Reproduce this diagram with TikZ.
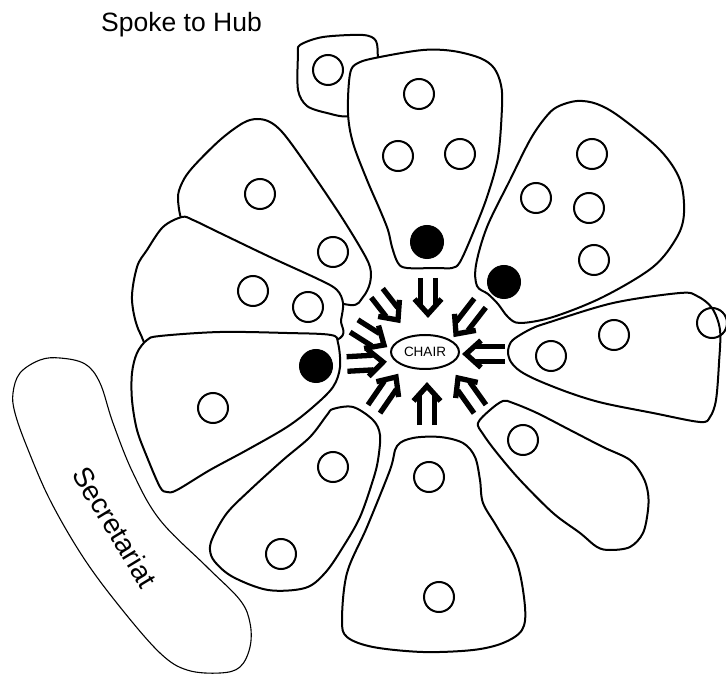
\documentclass[tikz,border=0pt]{standalone}
\usepackage{fontspec}
\setmainfont{Liberation Sans}
\usetikzlibrary{calc,shapes.geometric}
\tikzset{
  petal/.style={draw=black, line width=2pt, fill=white, line join=round},
  secbox/.style={draw=black, line width=1.1pt, fill=white},
  hole/.style={circle, draw=black, line width=2pt, minimum size=30pt, inner sep=0pt},
  member/.style={circle, draw=black, fill=black, line width=1pt, minimum size=33pt, inner sep=0pt},
  hubline/.style={line width=5.3pt, draw=black},
}
\newcommand\hubarrow[2]{%
  \draw[hubline] ($(#1)!7.3pt!90:(#2)$) -- ($($(#2)!10pt!(#1)$)!7.3pt!-90:(#1)$);
  \draw[hubline] ($(#1)!7.3pt!-90:(#2)$) -- ($($(#2)!10pt!(#1)$)!7.3pt!90:(#1)$);
  \draw[hubline, line join=miter] ($($(#2)!15pt!(#1)$)!13.5pt!90:(#2)$) -- (#2) -- ($($(#2)!15pt!(#1)$)!13.5pt!-90:(#2)$);
}
\begin{document}
\begin{tikzpicture}[x=1pt,y=-1pt]
\useasboundingbox (0,0) rectangle (726,676);
\fill[white] (0,0) rectangle (726,676);

% title
\node[anchor=base west, inner sep=0pt, font=\fontsize{26.5}{30}\selectfont] (title) at (101,32) {Spoke to Hub};

% secretariat
\draw[secbox] plot[smooth cycle, tension=0.6] coordinates {(60,358) (40,360) (20,373) (13,393) (15,413) (27,447) (50,500) (83,557) (120,607) (160,653) (187,670) (220,673) (240,667) (250,647) (250,623) (240,600) (207,567) (160,520) (133,473) (113,423) (100,383) (85,364)};
\node[rotate=-58.7, font=\fontsize{28}{30}\selectfont, inner sep=0pt] (secr) at (115,527) {Secretariat};

% small box behind top petal
\draw[petal] plot[smooth cycle, tension=0.5] coordinates {(300,45) (323,37) (363,35) (376,41) (378,60) (380,100) (350,116) (327,113) (307,106) (298,90) (298,55)};
\node[hole] (b1) at (328,70) {};

% petal 1 (top)
\draw[petal] plot[smooth cycle, tension=0.55] coordinates {(358,63) (380,57) (423,50) (453,51) (480,58) (494,68) (501,85) (502,107) (498,157) (487,197) (473,233) (460,262) (452,268) (437,268) (407,268) (398,263) (392,247) (388,230) (380,210) (367,180) (353,143) (348,113) (350,74)};
\node[hole] (p1a) at (419,94) {};
\node[hole] (p1b) at (398,156) {};
\node[hole] (p1c) at (460,154) {};
\node[member] (p1d) at (427,242) {};

% petal 2 (upper right)
\draw[petal] plot[smooth cycle, tension=0.55] coordinates {(577,101) (557,107) (545,118) (530,140) (510,180) (487,227) (476,265) (477,286) (488,294) (498,304) (508,317) (520,323) (553,317) (603,297) (653,267) (677,237) (684,213) (680,180) (660,150) (620,117) (597,104)};
\node[hole] (p2a) at (592,154) {};
\node[hole] (p2b) at (536,198) {};
\node[hole] (p2c) at (589,208) {};
\node[hole] (p2d) at (594,260) {};
\node[member] (p2e) at (504,282) {};

% petal 3 (right)
\draw[petal] plot[smooth cycle, tension=0.55] coordinates {(508,352) (511,342) (520,335) (533,328) (547,323) (613,303) (680,293) (697,296) (712,308) (720,330) (719,363) (716,400) (710,417) (700,422) (653,413) (603,403) (570,393) (537,380) (520,371) (511,362)};
\node[hole] (p3a) at (551,356) {};
\node[hole] (p3b) at (614,335) {};
\node[hole] (p3c) at (712,323) {};

% petal 4 (lower right)
\draw[petal] plot[smooth cycle, tension=0.55] coordinates {(478,423) (490,410) (503,401) (513,403) (537,413) (570,430) (603,447) (630,460) (643,477) (648,493) (648,510) (643,533) (630,547) (610,550) (597,547) (580,533) (553,513) (520,480) (497,453) (483,434)};
\node[hole] (p4a) at (523,440) {};

% petal 5 (bottom)
\draw[petal] plot[smooth cycle, tension=0.55] coordinates {(397,446) (413,438) (440,437) (463,443) (475,457) (480,480) (483,503) (497,527) (517,563) (525,607) (522,630) (503,643) (473,650) (423,652) (373,647) (347,637) (342,620) (347,573) (367,527) (390,470)};
\node[hole] (p5a) at (429,477) {};
\node[hole] (p5b) at (439,597) {};

% petal 6 (lower left)
\draw[petal] plot[smooth cycle, tension=0.55] coordinates {(333,409) (353,407) (373,420) (380,435) (378,460) (373,480) (360,517) (343,547) (325,573) (305,588) (268,590) (233,577) (215,562) (210,550) (213,537) (227,513) (250,490) (283,460) (310,437) (327,415)};
\node[hole] (p6a) at (333,467) {};
\node[hole] (p6b) at (281,554) {};

% petal 9 (upper left)
\draw[petal] plot[smooth cycle, tension=0.55] coordinates {(243,123) (257,119) (270,122) (283,133) (303,160) (337,210) (360,247) (370,267) (370,283) (363,297) (350,305) (300,290) (220,250) (186,228) (178,200) (182,183) (193,167) (220,140)};
\node[hole] (p9a) at (260,194) {};
\node[hole] (p9b) at (333,252) {};

% petal 8 (middle left)
\draw[petal] plot[smooth cycle, tension=0.55] coordinates {(182,217) (193,220) (220,233) (270,257) (320,280) (337,290) (343,303) (341,320) (336,340) (250,352) (160,352) (140,333) (132,300) (137,267) (147,250) (163,227)};
\node[hole] (p8a) at (253,291) {};
\node[hole] (p8b) at (308,307) {};

% petal 7 (left)
\draw[petal] plot[smooth cycle, tension=0.55] coordinates {(147,340) (160,336) (220,332) (287,333) (331,335) (338,343) (340,367) (333,387) (313,407) (287,427) (247,450) (210,470) (177,490) (167,492) (160,487) (147,457) (137,430) (132,400) (132,373) (137,353)};
\node[hole] (p7a) at (213,408) {};
\node[member] (p7b) at (316,366) {};

% hub
\node[draw, ellipse, line width=2pt, minimum width=68pt, minimum height=34pt, inner sep=0pt, font=\fontsize{13.5}{15}\selectfont] (chair) at (425,352) {CHAIR};

% arrows
\coordinate (a1s) at (428,278); \coordinate (a1t) at (428,314);
\coordinate (a2s) at (480,303); \coordinate (a2t) at (456,334);
\coordinate (a3s) at (505,354); \coordinate (a3t) at (466,354);
\coordinate (a4s) at (480,409); \coordinate (a4t) at (458,378);
\coordinate (a5s) at (427,425); \coordinate (a5t) at (427,386);
\coordinate (a6s) at (374,409); \coordinate (a6t) at (396,377);
\coordinate (a7s) at (347,364); \coordinate (a7t) at (383,362);
\coordinate (a8s) at (354,326); \coordinate (a8t) at (384,345);
\coordinate (a9s) at (377,293); \coordinate (a9t) at (398,320);
\hubarrow{a1s}{a1t}
\hubarrow{a2s}{a2t}
\hubarrow{a3s}{a3t}
\hubarrow{a4s}{a4t}
\hubarrow{a5s}{a5t}
\hubarrow{a6s}{a6t}
\hubarrow{a7s}{a7t}
\hubarrow{a8s}{a8t}
\hubarrow{a9s}{a9t}
\end{tikzpicture}
\end{document}
